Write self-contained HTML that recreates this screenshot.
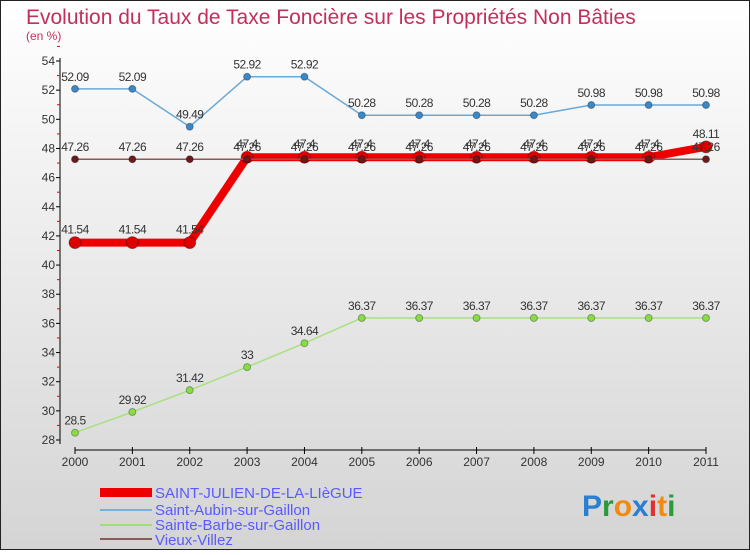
<!DOCTYPE html>
<html><head><meta charset="utf-8"><style>
body{margin:0}
svg text{font-family:"Liberation Sans",sans-serif}
</style></head><body>
<svg id="c" width="750" height="550" viewBox="0 0 750 550" xmlns="http://www.w3.org/2000/svg">
<defs><linearGradient id="bg" x1="0" y1="0" x2="0" y2="1"><stop offset="0" stop-color="#ffffff"/><stop offset="1" stop-color="#d4d4d4"/></linearGradient></defs>
<rect x="0.5" y="0.5" width="749" height="549" fill="url(#bg)" stroke="#222"/>
<text x="26" y="24" font-size="21" fill="#c0305a">Evolution du Taux de Taxe Foncière sur les Propriétés Non Bâties</text>
<text x="26" y="40" font-size="12" fill="#c0305a">(en %)</text>
<g id="axes"></g><g id="series"></g>
<g>
<rect x="100" y="488" width="52" height="9" fill="#e00"/>
<text x="155" y="498" font-size="15" fill="#5a5aff">SAINT-JULIEN-DE-LA-LIèGUE</text>
<line x1="100" y1="510" x2="152" y2="510" stroke="#7ab0d8" stroke-width="2"/>
<text x="155" y="515" font-size="15" fill="#5a5aff">Saint-Aubin-sur-Gaillon</text>
<line x1="100" y1="525" x2="152" y2="525" stroke="#9fe070" stroke-width="2"/>
<text x="155" y="530" font-size="15" fill="#5a5aff">Sainte-Barbe-sur-Gaillon</text>
<line x1="100" y1="539" x2="152" y2="539" stroke="#8a5a5a" stroke-width="2"/>
<text x="155" y="545" font-size="15" fill="#5a5aff">Vieux-Villez</text>
</g>
<text x="582" y="516" font-size="30" font-weight="bold"><tspan fill="#2a7fd0">P</tspan><tspan fill="#2a9a3a">r</tspan><tspan fill="#f08a10">o</tspan><tspan fill="#2a7fd0">x</tspan><tspan fill="#e03030">i</tspan><tspan fill="#f08a10">t</tspan><tspan fill="#2a9a3a">i</tspan></text>
</svg>
<script>
const years=[2000,2001,2002,2003,2004,2005,2006,2007,2008,2009,2010,2011];
const yTicks=[28,30,32,34,36,38,40,42,44,46,48,50,52,54];
const stJulien=[41.54,41.54,41.54,47.4,47.4,47.4,47.4,47.4,47.4,47.4,47.4,48.11];
const stAubin=[52.09,52.09,49.49,52.92,52.92,50.28,50.28,50.28,50.28,50.98,50.98,50.98];
const steBarbe=[28.5,29.92,31.42,33,34.64,36.37,36.37,36.37,36.37,36.37,36.37,36.37];
const vieux=[47.26,47.26,47.26,47.26,47.26,47.26,47.26,47.26,47.26,47.26,47.26,47.26];
const NS='http://www.w3.org/2000/svg';
const X=i=>75+i*(706-75)/11;
const Y=v=>440-(v-28)*(440-61)/26;
function mk(t,a,p){const e=document.createElementNS(NS,t);for(const k in a)e.setAttribute(k,a[k]);p.appendChild(e);return e;}
const ax=document.getElementById('axes');
const yl=mk('line',{x1:60,y1:58,x2:60,y2:444,stroke:'#000'},ax);


const xl=mk('line',{x1:75,y1:450,x2:706,y2:450,stroke:'#000'},ax);


yTicks.forEach(v=>{
 mk('line',{x1:56,x2:60,y1:Y(v),y2:Y(v),stroke:'#000'},ax);
 mk('line',{x1:57,x2:60,y1:Y(v+1),y2:Y(v+1),stroke:'#e00'},ax);
 const t=mk('text',{x:55,y:Y(v)+4,'font-size':12,'text-anchor':'end',fill:'#333'},ax);
 t.textContent=v;
 
 
});
years.forEach((yr,i)=>{
 mk('line',{x1:X(i),x2:X(i),y1:447,y2:454,stroke:'#000'},ax);
 const t=mk('text',{x:X(i),y:466,'font-size':12,'text-anchor':'middle',fill:'#333'},ax);
 t.textContent=yr;
 
 
});
const sg=document.getElementById('series');
function draw(name,arr,col,w,r,pc,lblDy){
 const g=mk('g',{},sg);
 
 
 const pl=mk('polyline',{points:arr.map((v,i)=>X(i)+','+Y(v)).join(' '),fill:'none',stroke:col,'stroke-width':w,'stroke-linejoin':'round'},g);
 
 
 arr.forEach((v,i)=>{
  const c=mk('circle',{cx:X(i),cy:Y(v),r:r,fill:pc,stroke:'rgba(0,0,0,0.3)'},g);
  
  
  const t=mk('text',{x:X(i),y:Y(v)+lblDy,'font-size':12,'text-anchor':'middle',fill:'#333','letter-spacing':'-0.5'},g);
  t.textContent=v;
  
  
 });
}
draw('saint-julien',stJulien,'#ee0000',8,6,'#dd0000',-9);
draw('sainte-barbe',steBarbe,'#a8e080',1.5,3.5,'#88dd44',-8);
draw('saint-aubin',stAubin,'#6aa8d8',1.5,3.5,'#3a88c8',-8);
draw('vieux-villez',vieux,'#8a5a5a',1.5,3.5,'#6a1a1a',-8);
</script>
</body></html>
